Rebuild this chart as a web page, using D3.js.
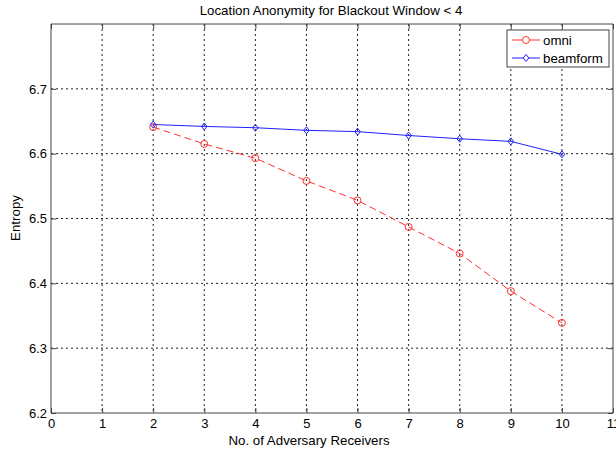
<!DOCTYPE html>
<html>
<head>
<meta charset="utf-8">
<script src="https://cdn.jsdelivr.net/npm/d3@7"></script>
<style>
body{margin:0;background:#fff}
text{font-family:"Liberation Sans",Arial,sans-serif;fill:#000}
</style>
</head>
<body>
<script>
const receivers=[2,3,4,5,6,7,8,9,10]
const omni=[6.641,6.615,6.593,6.558,6.528,6.487,6.446,6.388,6.339]
const beamform=[6.645,6.642,6.640,6.636,6.634,6.628,6.623,6.619,6.599]
const xTicks=[0,1,2,3,4,5,6,7,8,9,10,11]
const yTicks=[6.2,6.3,6.4,6.5,6.6,6.7]

const width=616
const height=453
const plotLeft=51,plotRight=613,plotTop=24,plotBottom=413

const svg=d3.select('body').append('svg').attr('width',width).attr('height',height)
const xScale=d3.scaleLinear().domain([0,11]).range([plotLeft,plotRight])
const yScale=d3.scaleLinear().domain([6.2,6.8]).range([plotBottom,plotTop])

// grid
svg.append('g').selectAll('line').data(xTicks.slice(1,-1)).enter().append('line')
   .attr('x1',d=>xScale(d)).attr('x2',d=>xScale(d))
   .attr('y1',plotTop).attr('y2',plotBottom)
   .attr('stroke','#222').attr('stroke-dasharray','2,3').attr('stroke-width',1)
svg.append('g').selectAll('line').data(yTicks.slice(1)).enter().append('line')
   .attr('y1',d=>yScale(d)).attr('y2',d=>yScale(d))
   .attr('x1',plotLeft).attr('x2',plotRight)
   .attr('stroke','#222').attr('stroke-dasharray','2,3').attr('stroke-width',1)

// axes
const xAxis=d3.axisBottom(xScale).tickValues(xTicks).tickSize(-5).tickPadding(6).tickFormat(d3.format('d'))
const yAxis=d3.axisLeft(yScale).tickValues(yTicks).tickSize(-5).tickPadding(4).tickFormat(d3.format('.1f'))
const gx=svg.append('g').attr('transform',`translate(0,${plotBottom})`).call(xAxis)
const gy=svg.append('g').attr('transform',`translate(${plotLeft},0)`).call(yAxis)
const gxTop=svg.append('g').attr('transform',`translate(0,${plotTop})`)
   .call(d3.axisTop(xScale).tickValues(xTicks).tickSize(-5).tickFormat(''))
const gyRight=svg.append('g').attr('transform',`translate(${plotRight},0)`)
   .call(d3.axisRight(yScale).tickValues(yTicks).tickSize(-5).tickFormat(''))
;[gx,gy,gxTop,gyRight].forEach(g=>{
  g.select('.domain').attr('stroke','#444').attr('stroke-width',1)
  g.selectAll('.tick line').attr('stroke','#444')
  g.selectAll('.tick text').style('font-size','13px').attr('fill','#000')
})
gx.select('.domain').attr('d',`M${plotLeft},0H${plotRight}`)
gy.select('.domain').attr('d',`M0,${plotBottom}V${plotTop}`)
gxTop.select('.domain').attr('d',`M${plotLeft},0H${plotRight}`)
gyRight.select('.domain').attr('d',`M0,${plotBottom}V${plotTop}`)

// labels
svg.append('text').attr('x',(plotLeft+plotRight)/2-1).attr('y',15).attr('text-anchor','middle')
   .style('font-size','13.3px').text('Location Anonymity for Blackout Window < 4')
svg.append('text').attr('x',(plotLeft+plotRight)/2-23).attr('y',445).attr('text-anchor','middle')
   .style('font-size','13.3px').text('No. of Adversary Receivers')
svg.append('text').attr('transform',`translate(20,218) rotate(-90)`).attr('text-anchor','middle')
   .style('font-size','13.3px').text('Entropy')

// series
const line=d3.line().x((d,i)=>xScale(receivers[i])).y(d=>yScale(d))
svg.append('path').datum(omni).attr('d',line).attr('fill','none')
   .attr('stroke','#ff3030').attr('stroke-width',1).attr('stroke-dasharray','7,4')
svg.append('path').datum(beamform).attr('d',line).attr('fill','none')
   .attr('stroke','#2020ff').attr('stroke-width',1)
svg.selectAll('circle.omni').data(omni).enter().append('circle').attr('class','omni')
   .attr('cx',(d,i)=>xScale(receivers[i])).attr('cy',d=>yScale(d)).attr('r',3.5)
   .attr('fill','none').attr('stroke','#ff3030')
const diamond=(cx,cy)=>`M${cx},${cy-3.5}L${cx+2.8},${cy}L${cx},${cy+3.5}L${cx-2.8},${cy}Z`
svg.selectAll('path.beam').data(beamform).enter().append('path').attr('class','beam')
   .attr('d',(d,i)=>diamond(xScale(receivers[i]),yScale(d)))
   .attr('fill','none').attr('stroke','#2020ff')

// legend
const lg=svg.append('g')
lg.append('rect').attr('x',507).attr('y',30).attr('width',102).attr('height',37)
   .attr('fill','#fff').attr('stroke','#444')
const entries=[['omni','#ff3030'],['beamform','#2020ff']]
entries.forEach((e,i)=>{
  const y=40+i*18
  lg.append('line').attr('x1',512).attr('x2',540).attr('y1',y).attr('y2',y).attr('stroke',e[1])
  if(i==0) lg.append('circle').attr('cx',526).attr('cy',y).attr('r',3.5).attr('fill','#fff').attr('stroke',e[1])
  else lg.append('path').attr('d',diamond(526,y)).attr('fill','#fff').attr('stroke',e[1])
  lg.append('text').attr('x',543).attr('y',y+5).style('font-size','13.3px').text(e[0])
})
</script>
</body>
</html>
